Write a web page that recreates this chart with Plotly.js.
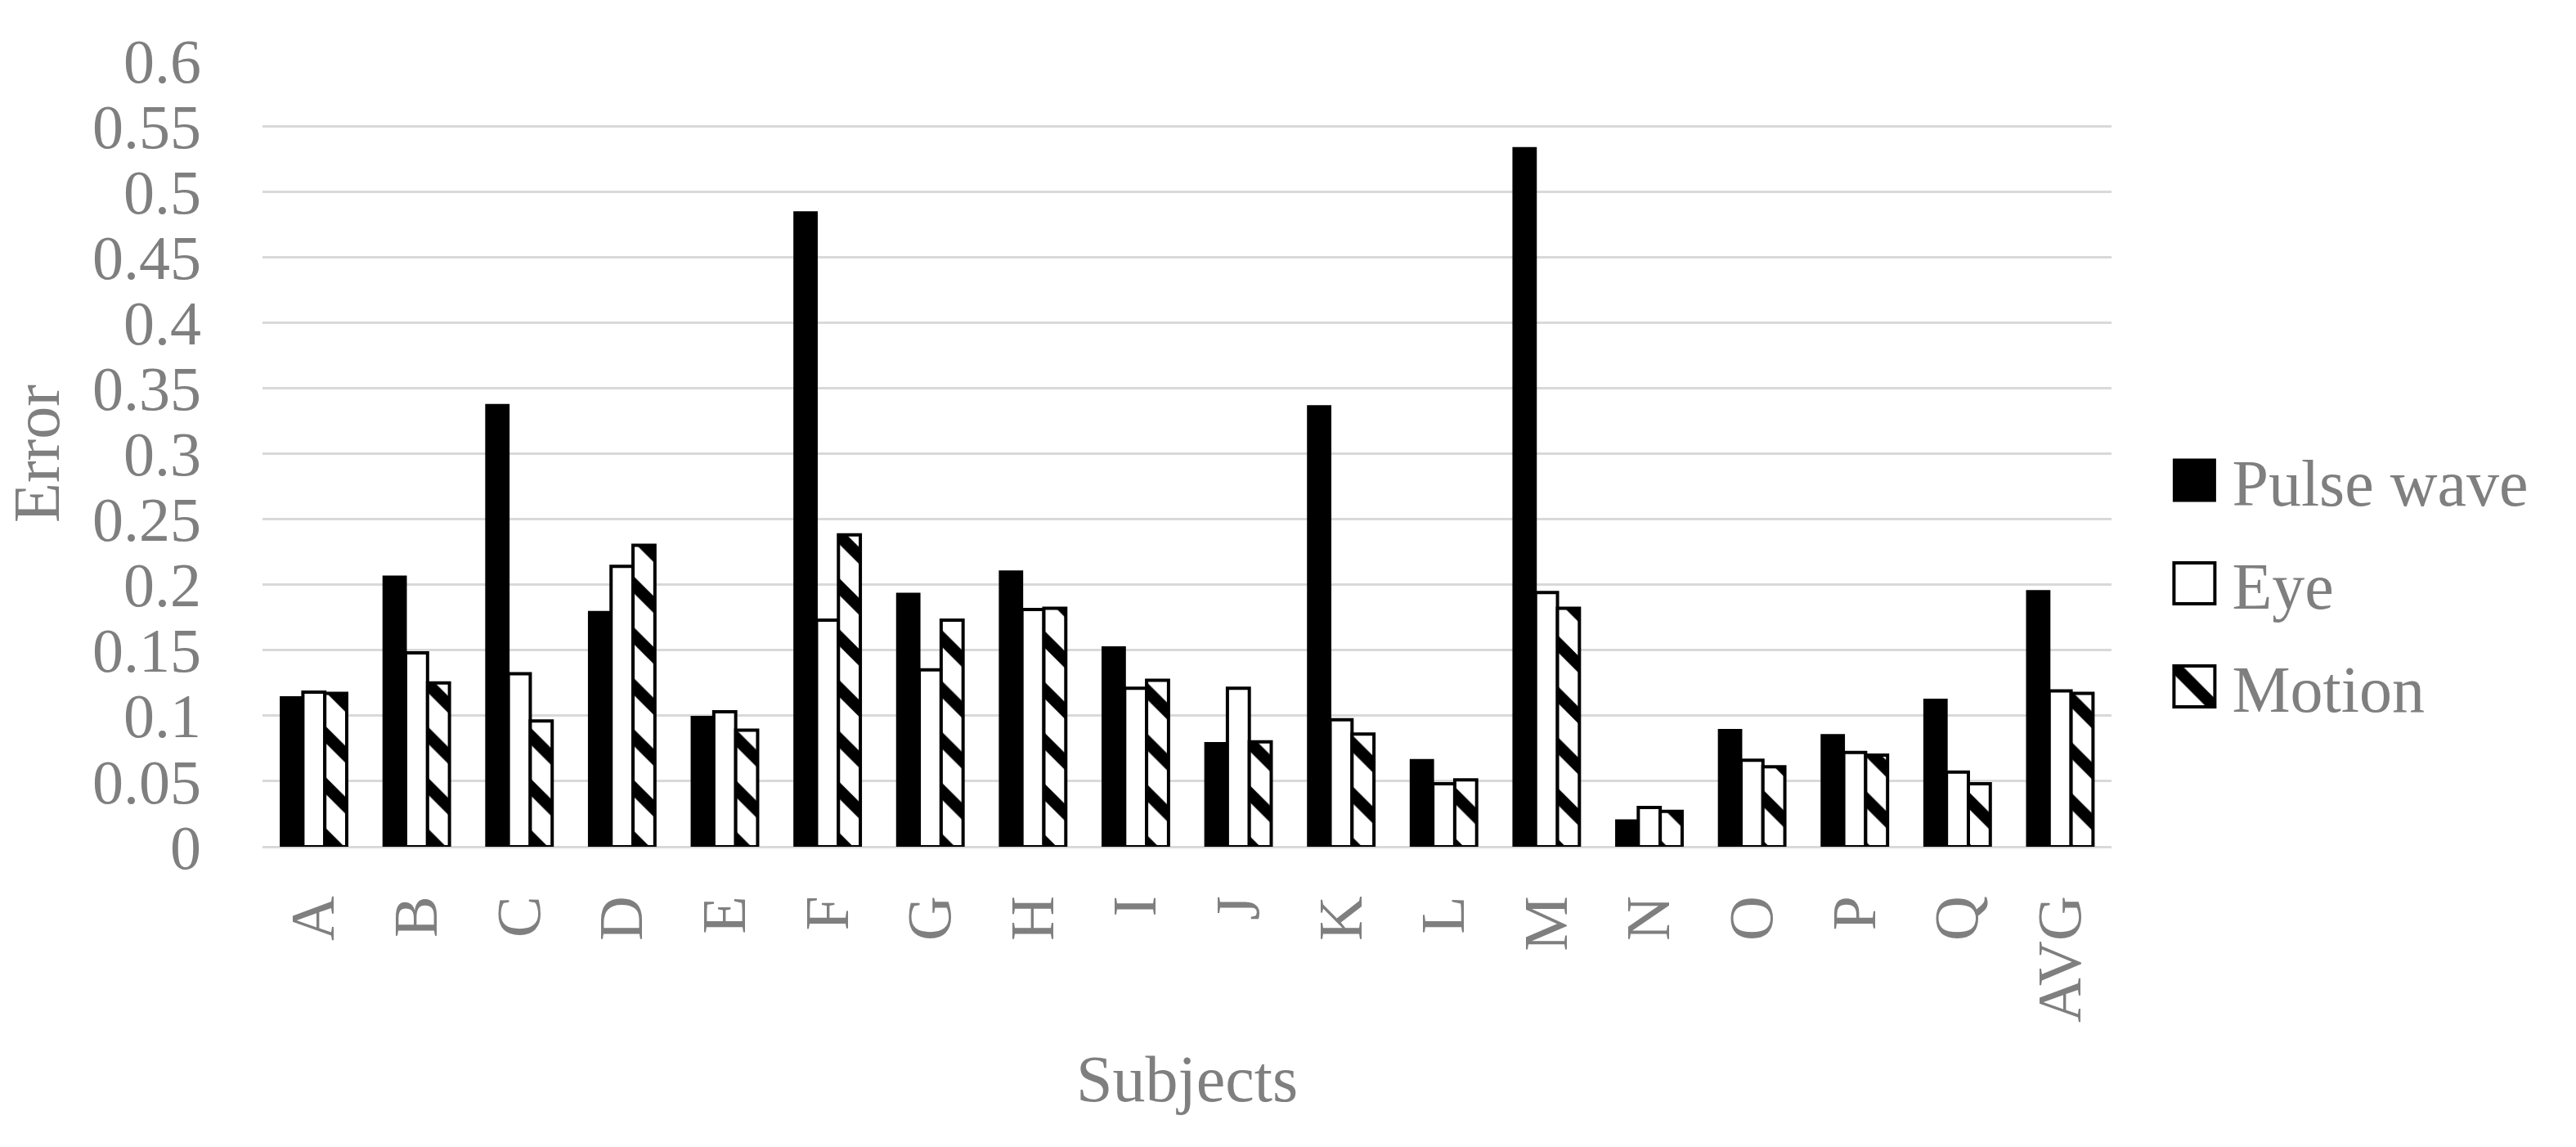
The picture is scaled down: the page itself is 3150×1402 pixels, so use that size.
<!DOCTYPE html>
<html>
<head>
<meta charset="utf-8">
<script src="https://cdn.plot.ly/plotly-3.0.1.min.js"></script>
<style>
  html, body { margin: 0; padding: 0; background: #ffffff; }
  #chart { width: 3150px; height: 1402px; }
</style>
</head>
<body>
<div id="chart"></div>
<script>
// ---- data ----
var categories = ['A','B','C','D','E','F','G','H','I','J','K','L','M','N','O','P','Q','AVG'];
var pulseWave  = [0.114, 0.206, 0.337, 0.179, 0.099, 0.484, 0.193, 0.210, 0.152, 0.079, 0.336, 0.066, 0.533, 0.020, 0.089, 0.085, 0.112, 0.195];
var eye        = [0.118, 0.148, 0.132, 0.214, 0.103, 0.173, 0.135, 0.181, 0.121, 0.121, 0.097, 0.048, 0.194, 0.030, 0.066, 0.072, 0.057, 0.119];
var motion     = [0.117, 0.125, 0.096, 0.230, 0.089, 0.238, 0.173, 0.182, 0.127, 0.080, 0.086, 0.051, 0.182, 0.027, 0.061, 0.070, 0.048, 0.117];
var seriesNames = ['Pulse wave', 'Eye', 'Motion'];
var yTickVals = [0, 0.05, 0.1, 0.15, 0.2, 0.25, 0.3, 0.35, 0.4, 0.45, 0.5, 0.55, 0.6];
var yTickText = ['0', '0.05', '0.1', '0.15', '0.2', '0.25', '0.3', '0.35', '0.4', '0.45', '0.5', '0.55', '0.6'];

var FONT = '"Palatino Linotype", "Book Antiqua", Palatino, "Liberation Serif", serif';
var GREY = '#7f7f7f';

var traces = [
  {
    type: 'bar', name: seriesNames[0], x: categories, y: pulseWave, legendgroup: 'g1',
    marker: { color: '#000000', line: { color: '#000000', width: 3 } }
  },
  {
    type: 'bar', name: seriesNames[1], x: categories, y: eye, legendgroup: 'g2',
    marker: { color: '#ffffff', line: { color: '#000000', width: 4 } }
  },
  {
    type: 'bar', name: seriesNames[2], x: categories, y: motion, legendgroup: 'g3',
    marker: {
      color: '#ffffff',
      line: { color: '#000000', width: 4 },
      pattern: { shape: '\\', fgcolor: '#000000', bgcolor: '#ffffff', size: 44, solidity: 0.33, fillmode: 'replace' }
    }
  }
];

var layout = {
  width: 3150, height: 1402,
  paper_bgcolor: '#ffffff', plot_bgcolor: '#ffffff',
  margin: { l: 321, r: 568, t: 74, b: 367, pad: 0 },
  font: { family: FONT, color: GREY, size: 76 },
  barmode: 'group',
  bargap: 0.36,
  bargroupgap: 0,
  showlegend: true,
  legend: {
    x: 1.0245, xanchor: 'left',
    y: 0.335, yanchor: 'middle',
    font: { family: FONT, color: GREY, size: 80 },
    traceorder: 'grouped',
    tracegroupgap: 19,
    itemwidth: 82,
    bgcolor: 'rgba(0,0,0,0)',
    borderwidth: 0
  },
  xaxis: {
    type: 'category',
    tickangle: -90,
    tickfont: { family: FONT, color: GREY, size: 76 },
    ticks: '',
    ticklabelstandoff: 44,
    showline: false,
    showgrid: false,
    zeroline: false,
    automargin: false,
    title: { text: 'Subjects', font: { family: FONT, color: GREY, size: 80 }, standoff: 40 }
  },
  yaxis: {
    range: [0, 0.6],
    tickmode: 'array',
    tickvals: yTickVals,
    ticktext: yTickText,
    tickfont: { family: FONT, color: GREY, size: 76 },
    ticks: '',
    ticklabelstandoff: 74,
    showline: false,
    showgrid: true,
    gridcolor: '#d9d9d9',
    gridwidth: 3,
    zeroline: true,
    zerolinecolor: '#d9d9d9',
    zerolinewidth: 3,
    automargin: false,
    title: { text: 'Error', font: { family: FONT, color: GREY, size: 80 }, standoff: 14 }
  }
};

function enlargeLegendKeys() {
  var paths = gd.querySelectorAll('.legend .legendpoints path');
  paths.forEach(function (p) { p.setAttribute('d', 'M25,25H-25V-25H25Z'); });
  // use the same (coarser) hatch pattern as the Motion bars for its legend key
  var barTraces = gd.querySelectorAll('.barlayer .trace');
  var legendItems = gd.querySelectorAll('.legend .traces');
  if (barTraces.length === 3 && legendItems.length === 3) {
    var barPath = barTraces[2].querySelector('path');
    var keyPath = legendItems[2].querySelector('.legendpoints path');
    if (barPath && keyPath && barPath.style.fill) {
      keyPath.style.fill = barPath.style.fill;
    }
  }
}

var gd = document.getElementById('chart');
Plotly.newPlot(gd, traces, layout, { displayModeBar: false, staticPlot: true }).then(function () {
  enlargeLegendKeys();
  setTimeout(enlargeLegendKeys, 0);
});
gd.on && gd.on('plotly_afterplot', enlargeLegendKeys);
</script>
</body>
</html>
